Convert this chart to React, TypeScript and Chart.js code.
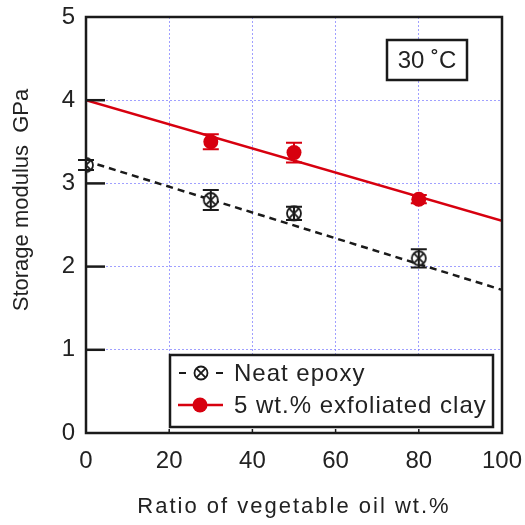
import React, { useEffect, useRef } from "react";
import { Chart, registerables } from "chart.js";

Chart.register(...registerables);

const FONT = '"Liberation Sans", Arial, Helvetica, sans-serif';

// Data
const neatRatio = [0, 30, 50, 80];
const neatModulus = [3.22, 2.8, 2.64, 2.1];
const neatError = [0.06, 0.12, 0.08, 0.11];
const clayRatio = [30, 50, 80];
const clayModulus = [3.5, 3.37, 2.81];
const clayError = [0.09, 0.12, 0.05];
const fitRatio = [0, 100];
const neatFit = [3.27, 1.72];
const clayFit = [4.0, 2.55];

const xTitle = "Ratio of vegetable oil wt.%";
const yTitle = "Storage modulus  GPa";
const tempLabel = "30 \u02DAC";
const legendLabels = ["Neat epoxy", "5 wt.% exfoliated clay"];

const RED = "#d7000f";
const BLACK = "#1a1a1a";

function drawNeatMarker(g: CanvasRenderingContext2D, cx: number, cy: number, r: number) {
  g.save();
  g.setLineDash([]);
  g.fillStyle = "#fff";
  g.strokeStyle = BLACK;
  g.lineWidth = 1.8;
  g.beginPath();
  g.arc(cx, cy, r, 0, Math.PI * 2);
  g.fill();
  g.stroke();
  const d = r * Math.SQRT1_2;
  g.beginPath();
  g.moveTo(cx - d, cy - d);
  g.lineTo(cx + d, cy + d);
  g.moveTo(cx + d, cy - d);
  g.lineTo(cx - d, cy + d);
  g.stroke();
  g.restore();
}

function makeNeatMarker() {
  const c = document.createElement("canvas");
  c.width = 20;
  c.height = 20;
  const g = c.getContext("2d")!;
  drawNeatMarker(g, 10, 10, 7);
  return c;
}

const overlay = {
  id: "overlay",
  afterDatasetsDraw(chart: any) {
    const ctx = chart.ctx as CanvasRenderingContext2D;
    const xs = chart.scales.x;
    const ys = chart.scales.y;
    ctx.save();
    const drawErr = (xv: number[], yv: number[], ev: number[], color: string) => {
      ctx.strokeStyle = color;
      ctx.lineWidth = 2;
      ctx.setLineDash([]);
      xv.forEach((x, i) => {
        const px = xs.getPixelForValue(x);
        const top = ys.getPixelForValue(yv[i] + ev[i]);
        const bot = ys.getPixelForValue(yv[i] - ev[i]);
        ctx.beginPath();
        ctx.moveTo(px, top);
        ctx.lineTo(px, bot);
        ctx.moveTo(px - 8, top);
        ctx.lineTo(px + 8, top);
        ctx.moveTo(px - 8, bot);
        ctx.lineTo(px + 8, bot);
        ctx.stroke();
      });
    };
    drawErr(neatRatio, neatModulus, neatError, BLACK);
    drawErr(clayRatio, clayModulus, clayError, RED);
    ctx.restore();
  },
  afterDraw(chart: any) {
    const ctx = chart.ctx as CanvasRenderingContext2D;
    const a = chart.chartArea;
    const xs = chart.scales.x;
    const ys = chart.scales.y;
    ctx.save();
    ctx.setLineDash([]);

    // legend box
    const lx0 = 170, lx1 = 493, ly0 = 355, ly1 = 427;
    ctx.fillStyle = "#fff";
    ctx.fillRect(lx0, ly0, lx1 - lx0, ly1 - ly0);
    ctx.strokeStyle = BLACK;
    ctx.lineWidth = 2.5;
    ctx.strokeRect(lx0, ly0, lx1 - lx0, ly1 - ly0);
    const r1 = 373, r2 = 405;
    ctx.lineWidth = 2;
    ctx.beginPath();
    ctx.moveTo(179, r1);
    ctx.lineTo(186, r1);
    ctx.moveTo(216, r1);
    ctx.lineTo(223, r1);
    ctx.stroke();
    drawNeatMarker(ctx, 201, r1, 6.5);
    ctx.strokeStyle = RED;
    ctx.lineWidth = 2.5;
    ctx.beginPath();
    ctx.moveTo(178, r2);
    ctx.lineTo(223, r2);
    ctx.stroke();
    ctx.fillStyle = RED;
    ctx.beginPath();
    ctx.arc(200, r2, 7.5, 0, Math.PI * 2);
    ctx.fill();
    ctx.fillStyle = "#222";
    ctx.font = `24px ${FONT}`;
    (ctx as any).letterSpacing = "1px";
    ctx.textAlign = "left";
    ctx.textBaseline = "middle";
    ctx.fillText(legendLabels[0], 234, r1 + 1);
    ctx.fillText(legendLabels[1], 234, r2 + 1);
    (ctx as any).letterSpacing = "0px";

    // frame
    ctx.strokeStyle = BLACK;
    ctx.lineWidth = 2.5;
    ctx.strokeRect(a.left, a.top, a.right - a.left, a.bottom - a.top);

    // left inward ticks
    for (let v = 1; v <= 4; v++) {
      const py = ys.getPixelForValue(v);
      ctx.beginPath();
      ctx.moveTo(a.left, py);
      ctx.lineTo(a.left + 19, py);
      ctx.stroke();
    }
    // bottom small ticks
    ctx.lineWidth = 1.5;
    for (let v = 20; v <= 80; v += 20) {
      const px = xs.getPixelForValue(v);
      ctx.beginPath();
      ctx.moveTo(px, a.bottom);
      ctx.lineTo(px, a.bottom - 4);
      ctx.stroke();
    }

    // temperature box
    ctx.lineWidth = 2.5;
    ctx.fillStyle = "#fff";
    ctx.fillRect(387, 40, 80, 40);
    ctx.strokeRect(387, 40, 80, 40);
    ctx.fillStyle = "#222";
    ctx.font = `24px ${FONT}`;
    ctx.textAlign = "center";
    ctx.textBaseline = "middle";
    ctx.fillText(tempLabel, 427, 61);

    // axis titles
    ctx.font = `22px ${FONT}`;
    (ctx as any).letterSpacing = "2px";
    ctx.textAlign = "center";
    ctx.textBaseline = "alphabetic";
    ctx.fillText(xTitle, (a.left + a.right) / 2, 513);
    (ctx as any).letterSpacing = "0px";
    ctx.translate(22, 200);
    ctx.rotate(-Math.PI / 2);
    ctx.textBaseline = "middle";
    ctx.fillText(yTitle, 0, 0);
    ctx.restore();
  },
};

export default function App() {
  const ref = useRef<HTMLCanvasElement | null>(null);
  useEffect(() => {
    const canvas = ref.current!;
    const neatMarker = makeNeatMarker();
    const grid = {
      color: "rgba(120,120,255,0.7)",
      lineWidth: 1,
      drawTicks: false,
    };
    const chart = new Chart(canvas, {
      type: "scatter",
      data: {
        datasets: [
          {
            label: legendLabels[0],
            data: neatRatio.map((x, i) => ({ x, y: neatModulus[i] })),
            pointStyle: neatMarker as any,
            pointRadius: 7,
            showLine: false,
            order: 0,
          },
          {
            label: legendLabels[1],
            data: clayRatio.map((x, i) => ({ x, y: clayModulus[i] })),
            pointStyle: "circle",
            pointRadius: 7.5,
            backgroundColor: RED,
            borderColor: RED,
            borderWidth: 0,
            showLine: false,
            order: 0,
          },
          {
            label: "neat fit",
            data: fitRatio.map((x, i) => ({ x, y: neatFit[i] })),
            showLine: true,
            pointRadius: 0,
            borderColor: BLACK,
            borderWidth: 2.5,
            borderDash: [7, 5],
            order: 1,
          } as any,
          {
            label: "clay fit",
            data: fitRatio.map((x, i) => ({ x, y: clayFit[i] })),
            showLine: true,
            pointRadius: 0,
            borderColor: RED,
            borderWidth: 2.5,
            order: 1,
          } as any,
        ],
      },
      options: {
        responsive: false,
        animation: false,
        layout: { padding: { left: 0, top: 17, right: 23, bottom: 0 } },
        plugins: { legend: { display: false }, tooltip: { enabled: false } },
        scales: {
          x: {
            type: "linear",
            min: 0,
            max: 100,
            ticks: { stepSize: 20, padding: 14, color: "#222", font: { family: FONT, size: 24 } },
            grid: grid as any,
            border: { display: false, dash: [2, 2] },
            afterFit: (s: any) => {
              s.height = 92;
              s.paddingLeft = 0;
              s.paddingRight = 0;
              s.paddingTop = 0;
              s.paddingBottom = 0;
            },
          },
          y: {
            min: 0,
            max: 5,
            ticks: { stepSize: 1, padding: 11, color: "#222", font: { family: FONT, size: 24 } },
            grid: grid as any,
            border: { display: false, dash: [2, 2] },
            afterFit: (s: any) => {
              s.width = 86;
              s.paddingLeft = 0;
              s.paddingRight = 0;
              s.paddingTop = 0;
              s.paddingBottom = 0;
            },
          },
        },
      },
      plugins: [overlay],
    });
    return () => chart.destroy();
  }, []);
  return (
    <div style={{ position: "absolute", left: 0, top: 0, width: 525, height: 525, background: "#fff" }}>
      <canvas ref={ref} width={525} height={525} style={{ display: "block" }} />
    </div>
  );
}
